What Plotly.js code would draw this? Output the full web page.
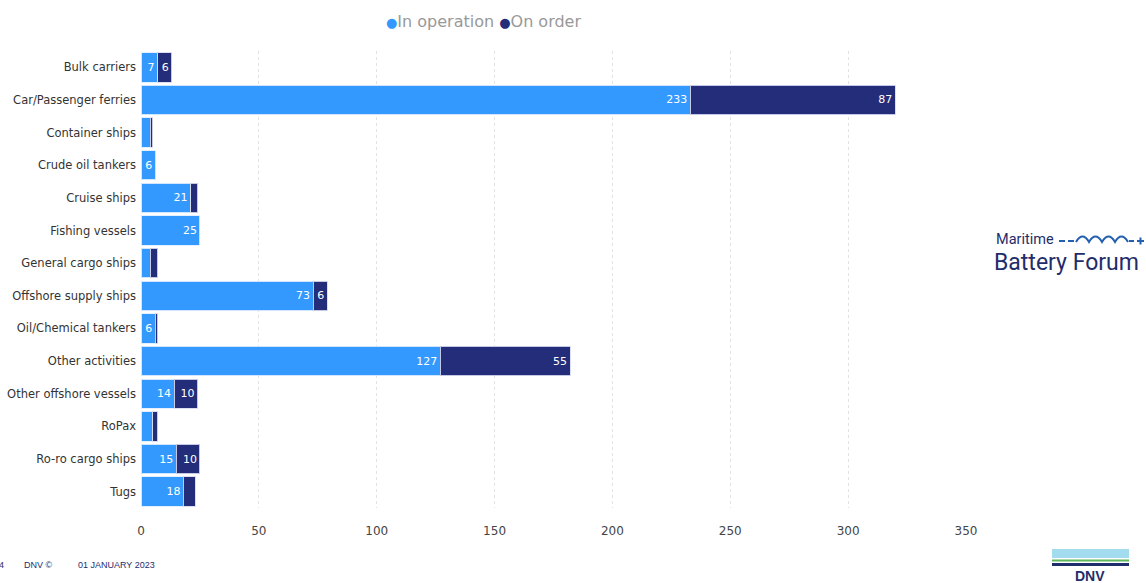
<!DOCTYPE html>
<html>
<head>
<meta charset="utf-8">
<script src="https://cdn.plot.ly/plotly-3.0.1.min.js"></script>
<style>html,body{margin:0;padding:0;background:#fff;}#chart{width:1146px;height:583px;}</style>
</head>
<body>
<div id="chart"></div>
<script>
var categories = ["Bulk carriers","Car/Passenger ferries","Container ships","Crude oil tankers","Cruise ships","Fishing vessels","General cargo ships","Offshore supply ships","Oil/Chemical tankers","Other activities","Other offshore vessels","RoPax","Ro-ro cargo ships","Tugs"];
var inOperation = [7,233,4,6,21,25,4,73,6,127,14,5,15,18];
var onOrder = [6,87,1,0,3,0,3,6,1,55,10,2,10,5];
var seriesNames = ["In operation","On order"];
var xTicks = [0,50,100,150,200,250,300,350];

var lightBlue = "#3399ff", navy = "#232d7a";
function labels(arr){ return arr.map(function(v){ return v > 0 ? String(v) : ""; }); }

// plot area in pixels: left 141, right 966, top 51, bottom 508
var L = 141, R = 966, T = 51, B = 508;
function px(x){ return (x - L) / (R - L); }
function py(y){ return (B - y) / (B - T); }

var traces = [
  {type:"bar", orientation:"h", y:categories, x:inOperation, name:seriesNames[0], showlegend:false,
   marker:{color:lightBlue, line:{color:"rgba(225,238,255,0.9)", width:1}},
   text:labels(inOperation), textposition:"inside", insidetextanchor:"end",
   textfont:{color:"#ffffff", size:11, family:"DejaVu Sans"}},
  {type:"bar", orientation:"h", y:categories, x:onOrder, name:seriesNames[1], showlegend:false,
   marker:{color:navy, line:{color:"rgba(215,220,240,0.9)", width:1}},
   text:labels(onOrder), textposition:"inside", insidetextanchor:"end",
   textfont:{color:"#ffffff", size:11, family:"DejaVu Sans"}}
];

// wave path for the Maritime Battery Forum logo
var wy = 241;
var wave = "M" + px(1076) + "," + py(wy + 1);
for (var i = 0; i < 4; i++) {
  var x0 = 1076 + i * 13;
  wave += " Q" + px(x0 + 6.5) + "," + py(wy - 10) + " " + px(x0 + 13) + "," + py(wy + 1);
}
var logoBlue = "#2360b0", dnvNavy = "#1f2d6b";

var layout = {
  width:1146, height:583,
  margin:{l:L, r:1146 - R, t:T, b:583 - B, autoexpand:false},
  paper_bgcolor:"#ffffff", plot_bgcolor:"#ffffff",
  barmode:"stack", bargap:0.1,
  showlegend:false,
  uniformtext:{mode:"hide", minsize:11},
  font:{family:"DejaVu Sans", size:11, color:"#444"},
  xaxis:{range:[0,350], tickvals:xTicks, ticktext:xTicks.map(String), showgrid:true, gridcolor:"#e3e3e3", griddash:"dot", gridwidth:1,
         zeroline:false, showline:false, ticks:"", ticklabelstandoff:14, tickfont:{size:12, color:"#444", family:"DejaVu Sans"}, fixedrange:true},
  yaxis:{type:"category", categoryorder:"array", categoryarray:categories, autorange:"reversed", showgrid:false, zeroline:false,
         showline:false, ticks:"", ticklabelstandoff:4, tickfont:{size:11.5, color:"#333", family:"DejaVu Sans"}, fixedrange:true},
  shapes:[
    // Maritime logo decorations
    {type:"line", xref:"paper", yref:"paper", x0:px(1059), x1:px(1065), y0:py(wy), y1:py(wy), line:{color:logoBlue, width:2}},
    {type:"line", xref:"paper", yref:"paper", x0:px(1068), x1:px(1074), y0:py(wy), y1:py(wy), line:{color:logoBlue, width:2}},
    {type:"path", xref:"paper", yref:"paper", path:wave, line:{color:logoBlue, width:2}},
    {type:"line", xref:"paper", yref:"paper", x0:px(1129), x1:px(1134), y0:py(wy), y1:py(wy), line:{color:logoBlue, width:2}},
    {type:"line", xref:"paper", yref:"paper", x0:px(1137), x1:px(1144), y0:py(wy), y1:py(wy), line:{color:logoBlue, width:2}},
    {type:"line", xref:"paper", yref:"paper", x0:px(1140.5), x1:px(1140.5), y0:py(wy - 3.5), y1:py(wy + 3.5), line:{color:logoBlue, width:2}},
    // DNV logo bars
    {type:"rect", xref:"paper", yref:"paper", x0:px(1052), x1:px(1129), y0:py(558), y1:py(549), fillcolor:"#a3dbef", line:{width:0}},
    {type:"rect", xref:"paper", yref:"paper", x0:px(1052), x1:px(1129), y0:py(561.5), y1:py(559.5), fillcolor:"#5cb85c", line:{width:0}},
    {type:"rect", xref:"paper", yref:"paper", x0:px(1052), x1:px(1129), y0:py(566), y1:py(563), fillcolor:dnvNavy, line:{width:0}}
  ],
  annotations:[
    {xref:"paper", yref:"paper", x:px(384), y:py(21), xanchor:"left", yanchor:"middle", showarrow:false,
     text:"<span style='color:" + lightBlue + ";font-size:13px'>●</span>" + seriesNames[0] + " <span style='color:" + navy + ";font-size:13px'>●</span>" + seriesNames[1],
     font:{family:"DejaVu Sans", size:16, color:"#999"}},
    {xref:"paper", yref:"paper", x:px(994), y:py(239.5), xanchor:"left", yanchor:"middle", showarrow:false,
     text:"Maritime", font:{family:"Roboto", size:14.5, color:dnvNavy}},
    {xref:"paper", yref:"paper", x:px(992), y:py(262.5), xanchor:"left", yanchor:"middle", showarrow:false,
     text:"Battery Forum", font:{family:"Roboto", size:23, color:dnvNavy}},
    {xref:"paper", yref:"paper", x:px(-3), y:py(565), xanchor:"left", yanchor:"middle", showarrow:false,
     text:"4", font:{family:"Liberation Sans", size:9, color:dnvNavy}},
    {xref:"paper", yref:"paper", x:px(22), y:py(565), xanchor:"left", yanchor:"middle", showarrow:false,
     text:"DNV ©", font:{family:"Liberation Sans", size:9, color:dnvNavy}},
    {xref:"paper", yref:"paper", x:px(76), y:py(565), xanchor:"left", yanchor:"middle", showarrow:false,
     text:"01 JANUARY 2023", font:{family:"Liberation Sans", size:9, color:dnvNavy}},
    {xref:"paper", yref:"paper", x:px(1090), y:py(576), xanchor:"center", yanchor:"middle", showarrow:false,
     text:"<b>DNV</b>", font:{family:"Liberation Sans", size:14, color:dnvNavy}}
  ]
};

Plotly.newPlot("chart", traces, layout, {displayModeBar:false, staticPlot:true});
</script>
</body>
</html>
